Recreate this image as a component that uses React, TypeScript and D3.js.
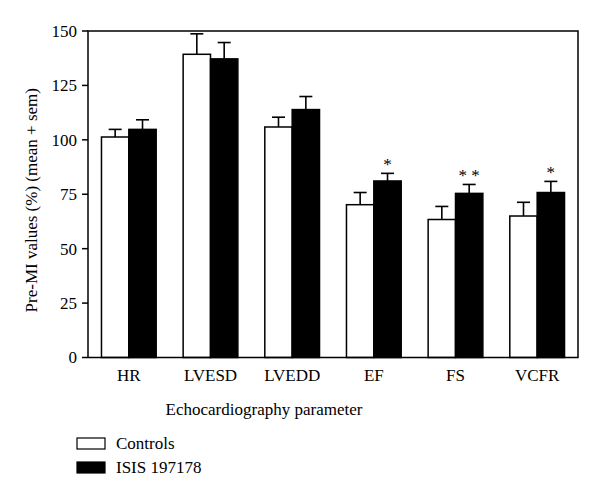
import React from "react";
import * as d3 from "d3";

const categories = ["HR", "LVESD", "LVEDD", "EF", "FS", "VCFR"];
const series = ["Controls", "ISIS 197178"];
const controlMean = [101.3, 139.3, 105.9, 70.2, 63.4, 65.0];
const controlSem = [3.5, 9.4, 4.5, 5.6, 6.0, 6.3];
const isisMean = [104.8, 137.2, 113.9, 81.1, 75.4, 75.8];
const isisSem = [4.4, 7.5, 6.0, 3.5, 4.1, 5.1];
const significance = ["", "", "", "*", "* *", "*"];
const yTicks = [0, 25, 50, 75, 100, 125, 150];

const W = 600;
const H = 499;
const left = 88;
const right = 578;
const top = 31;
const bottom = 357.5;
const font = "Liberation Serif, Times New Roman, DejaVu Serif, serif";
const ts: React.CSSProperties = { fontFamily: font };

export default function App() {
  const x = d3
    .scaleBand<string>()
    .domain(categories)
    .range([left, right])
    .paddingInner(0.33)
    .paddingOuter(0.165);
  const sub = d3.scaleBand<string>().domain(series).range([0, x.bandwidth()]);
  const y = d3.scaleLinear().domain([0, 150]).range([bottom, top]);
  const capW = 13;

  const groups = [
    { name: series[0], mean: controlMean, sem: controlSem, fill: "#fff" },
    { name: series[1], mean: isisMean, sem: isisSem, fill: "#000" },
  ];

  return (
    <svg
      width={W}
      height={H}
      style={{ position: "absolute", left: 0, top: 0, background: "#fff", fontFamily: font }}
    >
      <rect x={0} y={0} width={W} height={H} fill="#fff" />
      {categories.map((c, i) =>
        groups.map((g) => {
          const bx = (x(c) ?? 0) + (sub(g.name) ?? 0);
          const bw = sub.bandwidth();
          const cx = bx + bw / 2;
          const yt = y(g.mean[i]);
          const ye = y(g.mean[i] + g.sem[i]);
          return (
            <g key={c + g.name}>
              <line x1={cx} x2={cx} y1={yt} y2={ye} stroke="#000" strokeWidth={1.6} />
              <line x1={cx - capW / 2} x2={cx + capW / 2} y1={ye} y2={ye} stroke="#000" strokeWidth={1.6} />
              <rect
                x={bx}
                y={yt}
                width={bw}
                height={bottom - yt}
                fill={g.fill}
                stroke="#000"
                strokeWidth={1.5}
              />
            </g>
          );
        })
      )}
      {categories.map((c, i) =>
        significance[i] ? (
          <text
            key={"s" + c}
            x={(x(c) ?? 0) + (sub(series[1]) ?? 0) + sub.bandwidth() / 2}
            y={y(isisMean[i] + isisSem[i]) - 3}
            textAnchor="middle"
            fontSize={17}
            style={{ ...ts, whiteSpace: "pre" }}
          >
            {significance[i]}
          </text>
        ) : null
      )}
      <path
        d={`M${left},${bottom}V${top}H${right}V${bottom}H${left}`}
        fill="none"
        stroke="#000"
        strokeWidth={1.5}
      />
      {yTicks.map((t) => (
        <g key={t}>
          <line x1={left - 6} x2={left} y1={y(t)} y2={y(t)} stroke="#000" strokeWidth={1.5} />
          <text x={left - 11} y={y(t)} dy="0.35em" textAnchor="end" fontSize={17} style={ts}>
            {t}
          </text>
        </g>
      ))}
      {categories.map((c) => (
        <text
          key={"x" + c}
          x={(x(c) ?? 0) + x.bandwidth() / 2}
          y={381}
          textAnchor="middle"
          fontSize={17}
          style={ts}
        >
          {c}
        </text>
      ))}
      <text x={264} y={415} textAnchor="middle" fontSize={17} style={ts}>
        Echocardiography parameter
      </text>
      <text
        transform={`translate(37,${(top + bottom) / 2 + 6}) rotate(-90)`}
        textAnchor="middle"
        fontSize={17}
        style={ts}
      >
        Pre-MI values (%) (mean + sem)
      </text>
      {groups.map((g, i) => (
        <g key={"l" + g.name} transform={`translate(77,${438 + i * 24})`}>
          <rect x={0} y={0} width={28} height={11} fill={g.fill} stroke="#000" strokeWidth={1.2} />
          <text x={39} y={11} fontSize={17} style={ts}>
            {g.name}
          </text>
        </g>
      ))}
    </svg>
  );
}
